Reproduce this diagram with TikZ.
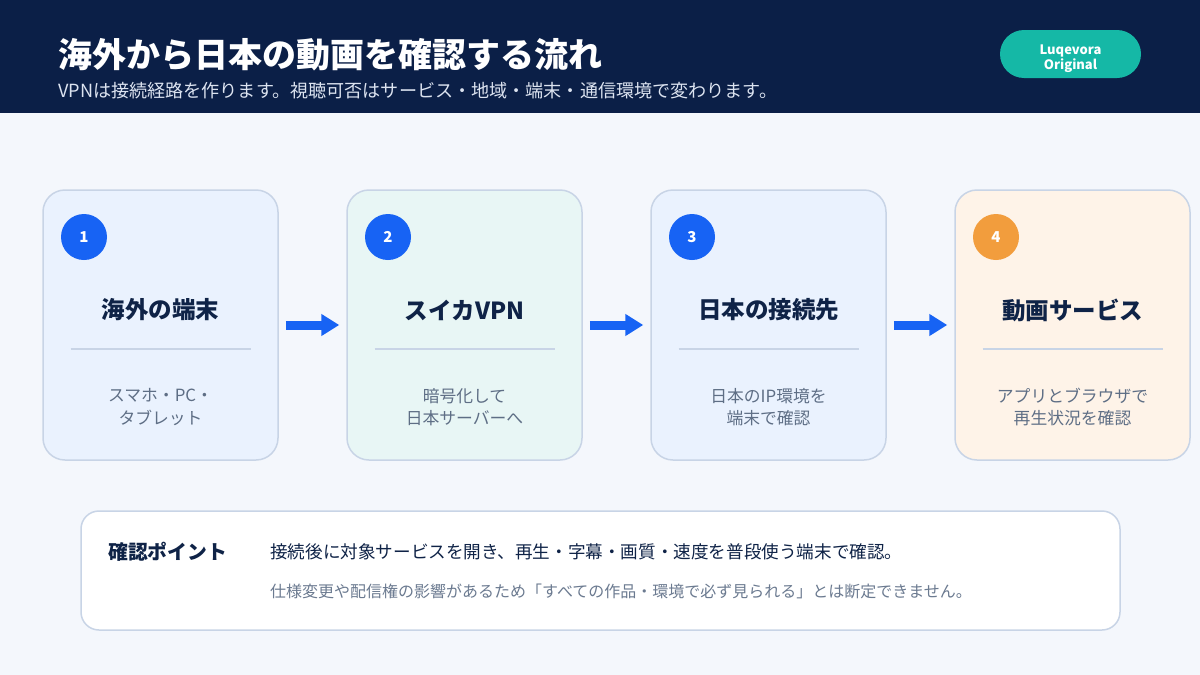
\documentclass[tikz,border=0pt]{standalone}
\usepackage{fontspec}
\setmainfont{Noto Sans CJK JP}
\usetikzlibrary{positioning,arrows.meta}
\definecolor{headnavy}{HTML}{0B1F47}
\definecolor{pagebg}{HTML}{F4F7FC}
\definecolor{subwhite}{HTML}{DCE3F0}
\definecolor{badgeteal}{HTML}{15B8A6}
\definecolor{cardline}{HTML}{C8D4E6}
\definecolor{cardblue}{HTML}{EAF2FE}
\definecolor{cardteal}{HTML}{E8F6F5}
\definecolor{cardpeach}{HTML}{FEF3E8}
\definecolor{stepblue}{HTML}{1763F4}
\definecolor{steporange}{HTML}{F29D3D}
\definecolor{titlenavy}{HTML}{0F2347}
\definecolor{desctext}{HTML}{5E6E85}
\definecolor{notetext}{HTML}{6B7A90}

\begin{document}
\begin{tikzpicture}[x=1pt, y=-1pt,
    card/.style={draw=cardline, line width=1.5pt, rounded corners=22pt,
      minimum width=235pt, minimum height=270pt, inner sep=0pt},
    stepnum/.style={circle, minimum size=46pt, inner sep=0pt, text=white,
      font=\fontsize{15}{18}\selectfont\bfseries},
    steptitle/.style={text=titlenavy, font=\fontsize{23.5}{27}\selectfont\bfseries},
    stepdesc/.style={text=desctext, align=center, font=\fontsize{16.8}{22.5}\selectfont},
    flow/.style={line width=9pt, draw=stepblue,
      -{Triangle[length=18pt,width=21pt]}, shorten <=7pt, shorten >=7pt}
  ]
  % background and header
  \fill[pagebg] (0,0) rectangle (1200,675);
  \useasboundingbox (0,0) rectangle (1200,675);
  \fill[headnavy] (0,0) rectangle (1200,113);

  \node[anchor=base west, inner sep=0pt, text=white,
        font=\fontsize{34}{40}\selectfont\bfseries] (title) at (58,67)
    {海外から日本の動画を確認する流れ};
  \node[anchor=base west, inner sep=0pt, text=subwhite,
        font=\fontsize{18.1}{20}\selectfont] (subtitle) at (58,97)
    {VPNは接続経路を作ります。視聴可否はサービス・地域・端末・通信環境で変わります。};

  \node[fill=badgeteal, rounded corners=24pt, minimum width=141pt, minimum height=48pt,
        inner sep=0pt] (badge) at (1070.5,54) {};
  \node[align=center, inner sep=0pt, text=white,
        font=\fontsize{13}{15}\selectfont\bfseries] (badgetxt) at (1070.5,58.5)
    {Luqevora\\Original};

  % step cards
  \foreach \fillc/\numc/\ttl/\desc [count=\i] in {
    cardblue/stepblue/海外の端末/{スマホ・PC・\\タブレット},
    cardteal/stepblue/スイカVPN/{暗号化して\\日本サーバーへ},
    cardblue/stepblue/日本の接続先/{日本のIP環境を\\端末で確認},
    cardpeach/steporange/動画サービス/{アプリとブラウザで\\再生状況を確認}%
  }{
    \node[card, fill=\fillc] (c\i) at ({160.5+(\i-1)*304}, 325) {};
    \node[stepnum, fill=\numc] (n\i) at ({84+(\i-1)*304}, 237) {\i};
    \node[steptitle] (t\i) at ({160.5+(\i-1)*304}, 310) {\ttl};
    \draw[cardline, line width=1.5pt] ({70.5+(\i-1)*304}, 349) -- ({250.5+(\i-1)*304}, 349);
    \node[stepdesc] (d\i) at ({160.5+(\i-1)*304}, 407) {\desc};
  }

  % arrows
  \foreach \a/\b in {1/2, 2/3, 3/4}
    \draw[flow] (c\a.east) -- (c\b.west);

  % check point box
  \node[draw=cardline, line width=1.5pt, fill=white, rounded corners=18pt,
        minimum width=1039pt, minimum height=119pt, inner sep=0pt] (point) at (600.5,570.5) {};
  \node[anchor=base west, inner sep=0pt, text=titlenavy,
        font=\fontsize{19.8}{22}\selectfont\bfseries] (plabel) at (108,559) {確認ポイント};
  \node[anchor=base west, inner sep=0pt, text=titlenavy,
        font=\fontsize{17.6}{20}\selectfont] (pmain) at (270,558)
    {接続後に対象サービスを開き、再生・字幕・画質・速度を普段使う端末で確認。};
  \node[anchor=base west, inner sep=0pt, text=notetext,
        font=\fontsize{16}{18}\selectfont] (pnote) at (270,597)
    {仕様変更や配信権の影響があるため「すべての作品・環境で必ず見られる」とは断定できません。};
\end{tikzpicture}
\end{document}
